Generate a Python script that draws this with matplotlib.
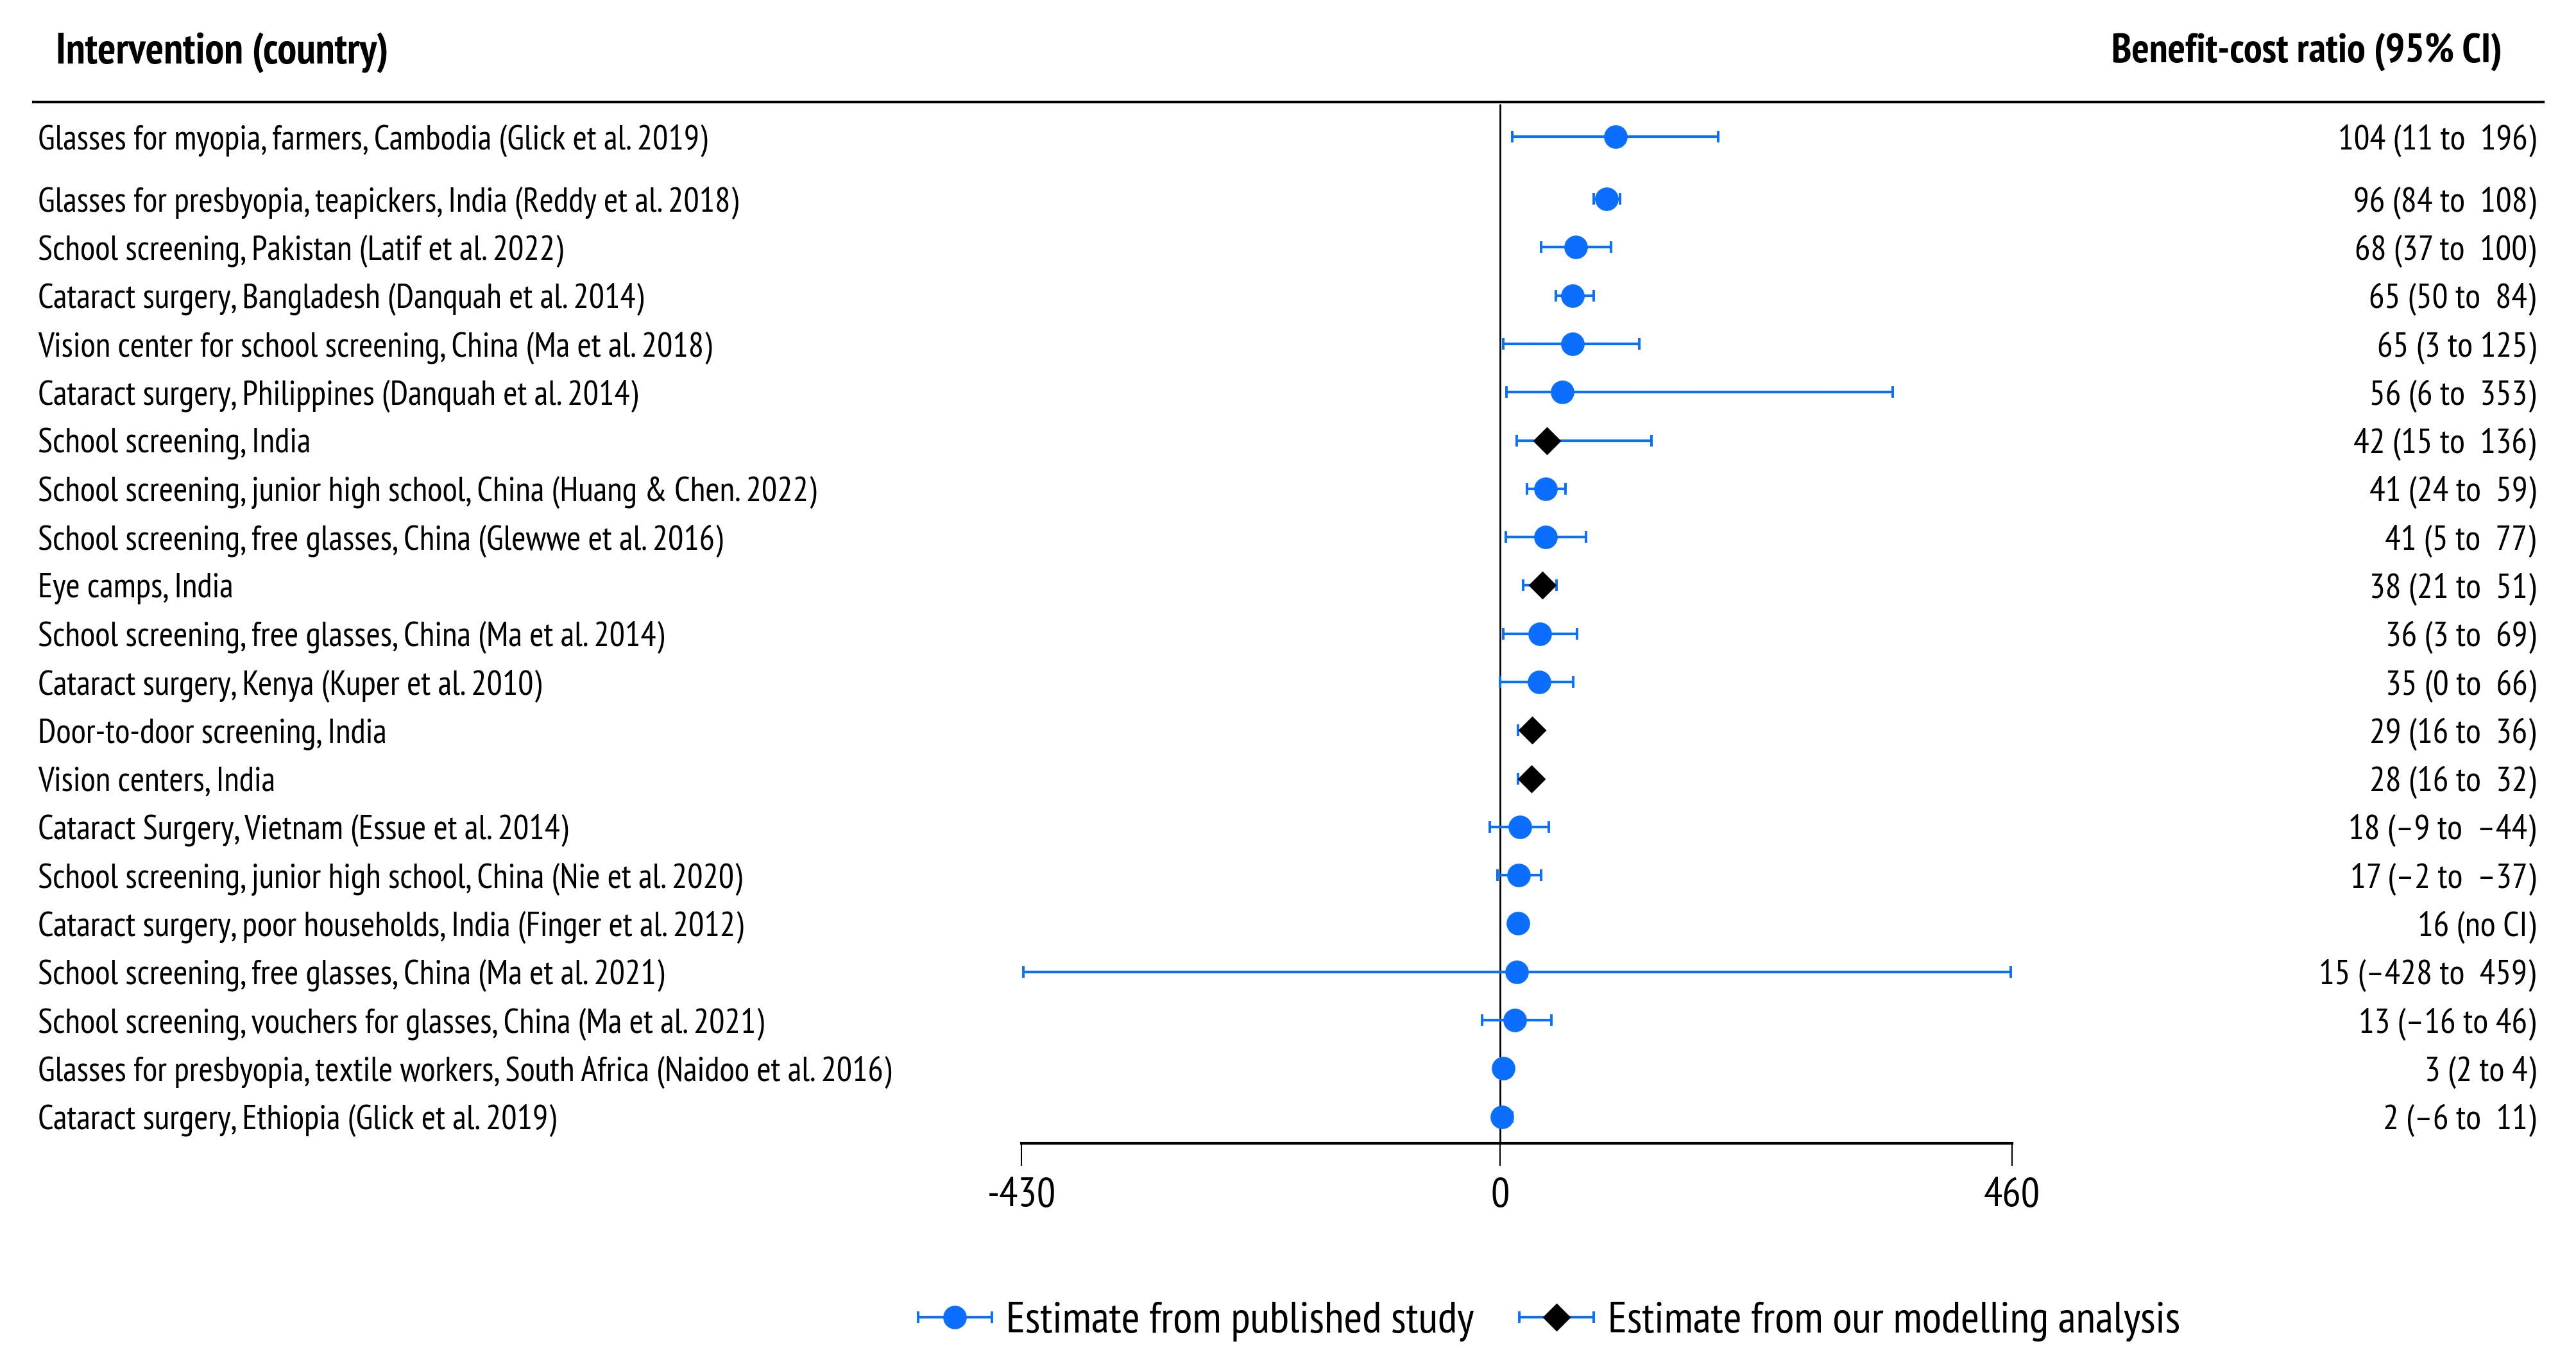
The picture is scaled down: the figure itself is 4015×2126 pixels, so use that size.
import numpy as np
import matplotlib
matplotlib.use('Agg')
import matplotlib.pyplot as plt
from matplotlib.transforms import blended_transform_factory
from matplotlib.container import ErrorbarContainer
from matplotlib.legend_handler import HandlerErrorbar

# narrow humanist fonts first, DejaVu as the last resort
plt.rcParams['font.family'] = ['PT Sans Narrow', 'Fira Sans Condensed', 'Roboto Condensed',
                               'Liberation Sans Narrow', 'DejaVu Sans']

labels = [
    'Glasses for myopia, farmers, Cambodia (Glick et al. 2019)',
    'Glasses for presbyopia, teapickers, India (Reddy et al. 2018)',
    'School screening, Pakistan (Latif et al. 2022)',
    'Cataract surgery, Bangladesh (Danquah et al. 2014)',
    'Vision center for school screening, China (Ma et al. 2018)',
    'Cataract surgery, Philippines (Danquah et al. 2014)',
    'School screening, India',
    'School screening, junior high school, China (Huang & Chen. 2022)',
    'School screening, free glasses, China (Glewwe et al. 2016)',
    'Eye camps, India',
    'School screening, free glasses, China (Ma et al. 2014)',
    'Cataract surgery, Kenya (Kuper et al. 2010)',
    'Door-to-door screening, India',
    'Vision centers, India',
    'Cataract Surgery, Vietnam (Essue et al. 2014)',
    'School screening, junior high school, China (Nie et al. 2020)',
    'Cataract surgery, poor households, India (Finger et al. 2012)',
    'School screening, free glasses, China (Ma et al. 2021)',
    'School screening, vouchers for glasses, China (Ma et al. 2021)',
    'Glasses for presbyopia, textile workers, South Africa (Naidoo et al. 2016)',
    'Cataract surgery, Ethiopia (Glick et al. 2019)',
]
estimate = [104, 96, 68, 65, 65, 56, 42, 41, 41, 38, 36, 35, 29, 28, 18, 17, 16, 15, 13, 3, 2]
ci_low = [11, 84, 37, 50, 3, 6, 15, 24, 5, 21, 3, 0, 16, 16, -9, -2, np.nan, -428, -16, 2, -6]
ci_high = [196, 108, 100, 84, 125, 353, 136, 59, 77, 51, 69, 66, 36, 32, 44, 37, np.nan, 459, 46, 4, 11]
# 'pub' = published study, 'mod' = own modelling analysis
source = ['pub', 'pub', 'pub', 'pub', 'pub', 'pub', 'mod', 'pub', 'pub', 'mod', 'pub',
          'pub', 'mod', 'mod', 'pub', 'pub', 'pub', 'pub', 'pub', 'pub', 'pub']
ratio_text = [
    '104 (11 to  196)', '96 (84 to  108)', '68 (37 to  100)', '65 (50 to  84)',
    '65 (3 to 125)', '56 (6 to  353)', '42 (15 to  136)', '41 (24 to  59)',
    '41 (5 to  77)', '38 (21 to  51)', '36 (3 to  69)', '35 (0 to  66)',
    '29 (16 to  36)', '28 (16 to  32)', '18 (\u20139 to  \u201344)', '17 (\u20132 to  \u201337)',
    '16 (no CI)', '15 (\u2013428 to  459)', '13 (\u201316 to 46)', '3 (2 to 4)', '2 (\u20136 to  11)',
]
x_ticks = [-430, 0, 460]

BLUE = '#0A6EFF'

est = np.array(estimate, dtype=float)
lo = np.array(ci_low, dtype=float)
hi = np.array(ci_high, dtype=float)
src = np.array(source)
n = len(labels)
ypos = np.arange(n, dtype=float)
ypos[0] -= 0.29  # first row sits a little apart

fig = plt.figure(figsize=(20.08, 10.63), dpi=200)
ax = fig.add_axes([0, 0, 1, 1])
ax.set_xlim(-1347.7, 967.3)
ax.set_ylim(25.12, -3.12)
ax.patch.set_visible(False)

handles = []
for key, fmt, mcol, ms, lab in [('pub', 'o', BLUE, 12.2, 'Estimate from published study'),
                                ('mod', 'D', 'black', 10.0, 'Estimate from our modelling analysis')]:
    m = src == key
    xerr = np.vstack([est[m] - lo[m], hi[m] - est[m]])
    h = ax.errorbar(est[m], ypos[m], xerr=xerr, fmt=fmt, color=mcol, mfc=mcol, mec=mcol, ms=ms,
                    ecolor=BLUE, elinewidth=1.5, capsize=3.4, capthick=1.4, zorder=3, label=lab)
    handles.append(h)

# zero reference line
ax.vlines(0, -0.965, 20.55, color='black', lw=1.0, zorder=2)

# x axis as a floating spine
for s in ['top', 'left', 'right']:
    ax.spines[s].set_visible(False)
ax.spines['bottom'].set_position(('data', 20.55))
ax.spines['bottom'].set_bounds(-430, 460)
ax.spines['bottom'].set_linewidth(1.5)
ax.set_xticks(x_ticks)
ax.set_xticklabels([str(t) for t in x_ticks])
ax.tick_params(axis='x', direction='out', length=12.5, width=0.75, pad=6.5, labelsize=23.5)
ax.set_yticks([])

tr = blended_transform_factory(ax.transAxes, ax.transData)
ax.plot([0.013, 0.987], [-1.005, -1.005], transform=tr, color='black', lw=1.5, clip_on=False)

ax.text(0.0217, -2.13, 'Intervention (country)', transform=tr, ha='left', va='center_baseline',
        fontsize=24, fontweight='bold')
ax.text(0.9711, -2.13, 'Benefit-cost ratio (95% CI)', transform=tr, ha='right', va='center_baseline',
        fontsize=23.1, fontweight='bold')

for y, lab, rt in zip(ypos, labels, ratio_text):
    ax.text(0.0147, y, lab, transform=tr, ha='left', va='center_baseline', fontsize=19.4)
    ax.text(0.9841, y, rt, transform=tr, ha='right', va='center_baseline', fontsize=19.8)

ax.legend(handles=handles, loc='center', bbox_to_anchor=(0.601, 0.031), ncol=2, frameon=False,
          fontsize=25, handlelength=1.7, handletextpad=0.3, columnspacing=1.0, borderpad=0,
          handler_map={ErrorbarContainer: HandlerErrorbar(xerr_size=0.83)})

fig.savefig('out.png', dpi=200)
